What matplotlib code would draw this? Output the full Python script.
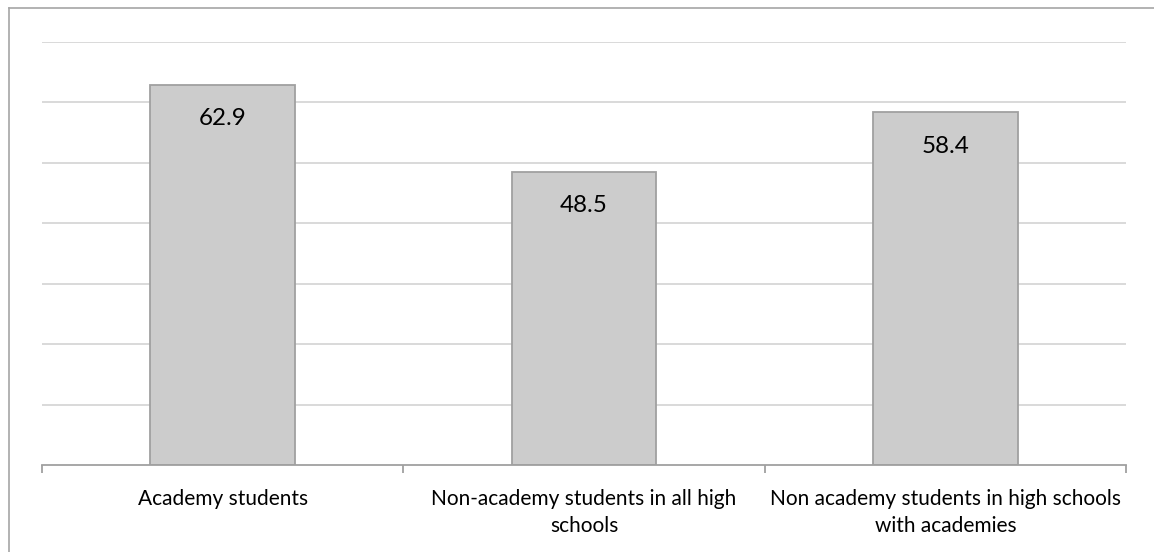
import matplotlib
matplotlib.use("Agg")
import matplotlib.pyplot as plt
from matplotlib.lines import Line2D

categories = ["Academy students",
              "Non-academy students in all high\nschools",
              "Non academy students in high schools\nwith academies"]
values = [62.9, 48.5, 58.4]
value_labels = ["62.9", "48.5", "58.4"]

W, H = 1154, 552
fig = plt.figure(figsize=(W / 100, H / 100), dpi=100)
plt.rcParams['font.family'] = ['Lato', 'DejaVu Sans']

# outer border (only left/top visible)
fig.add_artist(Line2D([8.5 / W, 8.5 / W], [0, 1 - 7.5 / H], transform=fig.transFigure,
                      color='#a6a6a6', lw=1.2))
fig.add_artist(Line2D([8.5 / W, 1], [1 - 7.5 / H, 1 - 7.5 / H], transform=fig.transFigure,
                      color='#a6a6a6', lw=1.2))

left, right = 42 / W, 1126 / W
bottom, top = (H - 465) / H, (H - 42) / H
ax = fig.add_axes([left, bottom, right - left, top - bottom])

x = list(range(len(categories)))
ax.bar(x, values, width=0.4, color='#cccccc', edgecolor='#a0a0a0', linewidth=1.3, zorder=3)
ax.set_xlim(-0.5, len(categories) - 0.5)
ax.set_ylim(0, 70)
ax.set_yticks(range(10, 71, 10))
ax.yaxis.grid(True, color='#d9d9d9', linewidth=1.4, zorder=0)
ax.tick_params(axis='y', left=False, labelleft=False)
for s in ['left', 'right', 'top']:
    ax.spines[s].set_visible(False)
ax.spines['bottom'].set_color('#a0a0a0')
ax.spines['bottom'].set_linewidth(1.3)
ax.spines['bottom'].set_zorder(4)

# category boundary ticks
ax.set_xticks([i - 0.5 for i in range(len(categories) + 1)])
ax.set_xticklabels([])
ax.tick_params(axis='x', direction='out', length=6, width=1.3, color='#a0a0a0')

for i, c in enumerate(categories):
    ax.annotate(c, xy=(i, 0), xycoords='data', xytext=(0, -17.5), textcoords='offset points',
                ha='center', va='top', fontsize=15, color='#000000', linespacing=1.42)

for i, (v, lab) in enumerate(zip(values, value_labels)):
    ax.annotate(lab, xy=(i, v), xycoords='data', xytext=(0, -24.5), textcoords='offset points',
                ha='center', va='center', fontsize=17.4, color='#000000', zorder=5)

fig.savefig("out.png", dpi=100)
